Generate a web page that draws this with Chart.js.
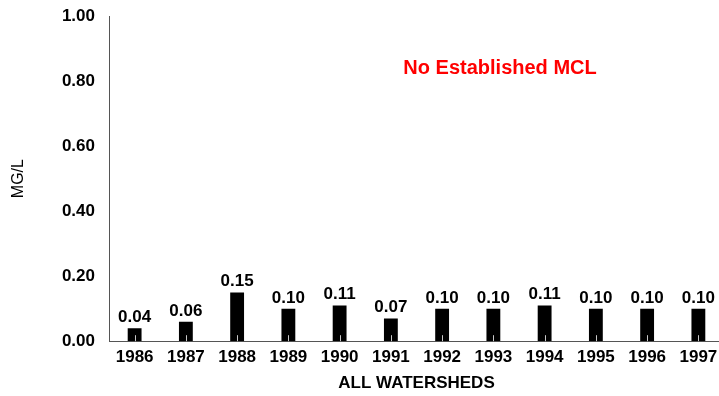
<!DOCTYPE html>
<html>
<head>
<meta charset="utf-8">
<script src="https://cdn.jsdelivr.net/npm/chart.js@4"></script>
<style>
  html, body { margin: 0; padding: 0; background: #fff; overflow: hidden; }
  #wrap { width: 732px; height: 396px; position: relative; }
</style>
</head>
<body>
<div id="wrap"><canvas id="chart"></canvas></div>
<script>
// data
const years = ["1986", "1987", "1988", "1989", "1990", "1991", "1992", "1993", "1994", "1995", "1996", "1997"];
const values = [0.04, 0.06, 0.15, 0.10, 0.11, 0.07, 0.10, 0.10, 0.11, 0.10, 0.10, 0.10];
const yTicks = [0, 0.2, 0.4, 0.6, 0.8, 1.0];
const noteText = "No Established MCL";
const noteAt = { x: 7.13, y: 0.84 }; // category index, value

const FONT = "'Liberation Sans', Arial, sans-serif";

// value labels above bars + little tick marks inside the bars + the red note
const extras = {
  id: "extras",
  afterDatasetsDraw(chart) {
    const ctx = chart.ctx;
    const xs = chart.scales.x, ys = chart.scales.y;
    const meta = chart.getDatasetMeta(0);
    ctx.save();
    // small light ticks rising from the axis at each category centre
    ctx.strokeStyle = "#c8c8c8";
    ctx.lineWidth = 1;
    meta.data.forEach((bar) => {
      const x = Math.round(bar.x) + 0.5;
      ctx.beginPath();
      ctx.moveTo(x, ys.bottom);
      ctx.lineTo(x, ys.bottom - 6);
      ctx.stroke();
    });
    // value labels
    ctx.fillStyle = "#000";
    ctx.font = "bold 17px " + FONT;
    ctx.textAlign = "center";
    ctx.textBaseline = "alphabetic";
    meta.data.forEach((bar, i) => {
      ctx.fillText(values[i].toFixed(2), bar.x, bar.y - 6);
    });
    // note
    ctx.fillStyle = "#ff0000";
    ctx.font = "bold 20px " + FONT;
    ctx.textBaseline = "middle";
    ctx.fillText(noteText, xs.getPixelForValue(noteAt.x), ys.getPixelForValue(noteAt.y));
    ctx.restore();
  }
};

new Chart(document.getElementById("chart"), {
  type: "bar",
  data: {
    labels: years,
    datasets: [{
      data: values,
      backgroundColor: "#000",
      borderWidth: 0,
      barPercentage: 0.54,
      categoryPercentage: 0.5
    }]
  },
  options: {
    responsive: true,
    maintainAspectRatio: false,
    animation: false,
    layout: { padding: { top: 16, right: 8, left: 0, bottom: 0 } },
    plugins: {
      legend: { display: false },
      tooltip: { enabled: false }
    },
    scales: {
      x: {
        grid: { display: false, drawTicks: false },
        border: { display: true, color: "#555", width: 1 },
        ticks: { color: "#000", font: { family: FONT, size: 17, weight: "bold" }, padding: 6, maxRotation: 0 },
        title: {
          display: true,
          text: "ALL WATERSHEDS",
          color: "#000",
          font: { family: FONT, size: 17, weight: "bold" },
          padding: { top: 0, bottom: 2 }
        }
      },
      y: {
        min: 0,
        max: 1,
        afterBuildTicks(scale) {
          scale.ticks = yTicks.map((v) => ({ value: v }));
        },
        afterFit(scale) {
          scale.width = 109;
          scale.paddingTop = 0;
          scale.paddingBottom = 0;
        },
        grid: { display: false, drawTicks: false },
        border: { display: true, color: "#555", width: 1 },
        ticks: {
          color: "#000",
          font: { family: FONT, size: 17, weight: "bold" },
          padding: 14,
          callback: (v) => Number(v).toFixed(2)
        },
        title: {
          display: true,
          text: "MG/L",
          color: "#000",
          font: { family: FONT, size: 16 },
          padding: { top: 9, bottom: 0 }
        }
      }
    }
  },
  plugins: [extras]
});
</script>
</body>
</html>
